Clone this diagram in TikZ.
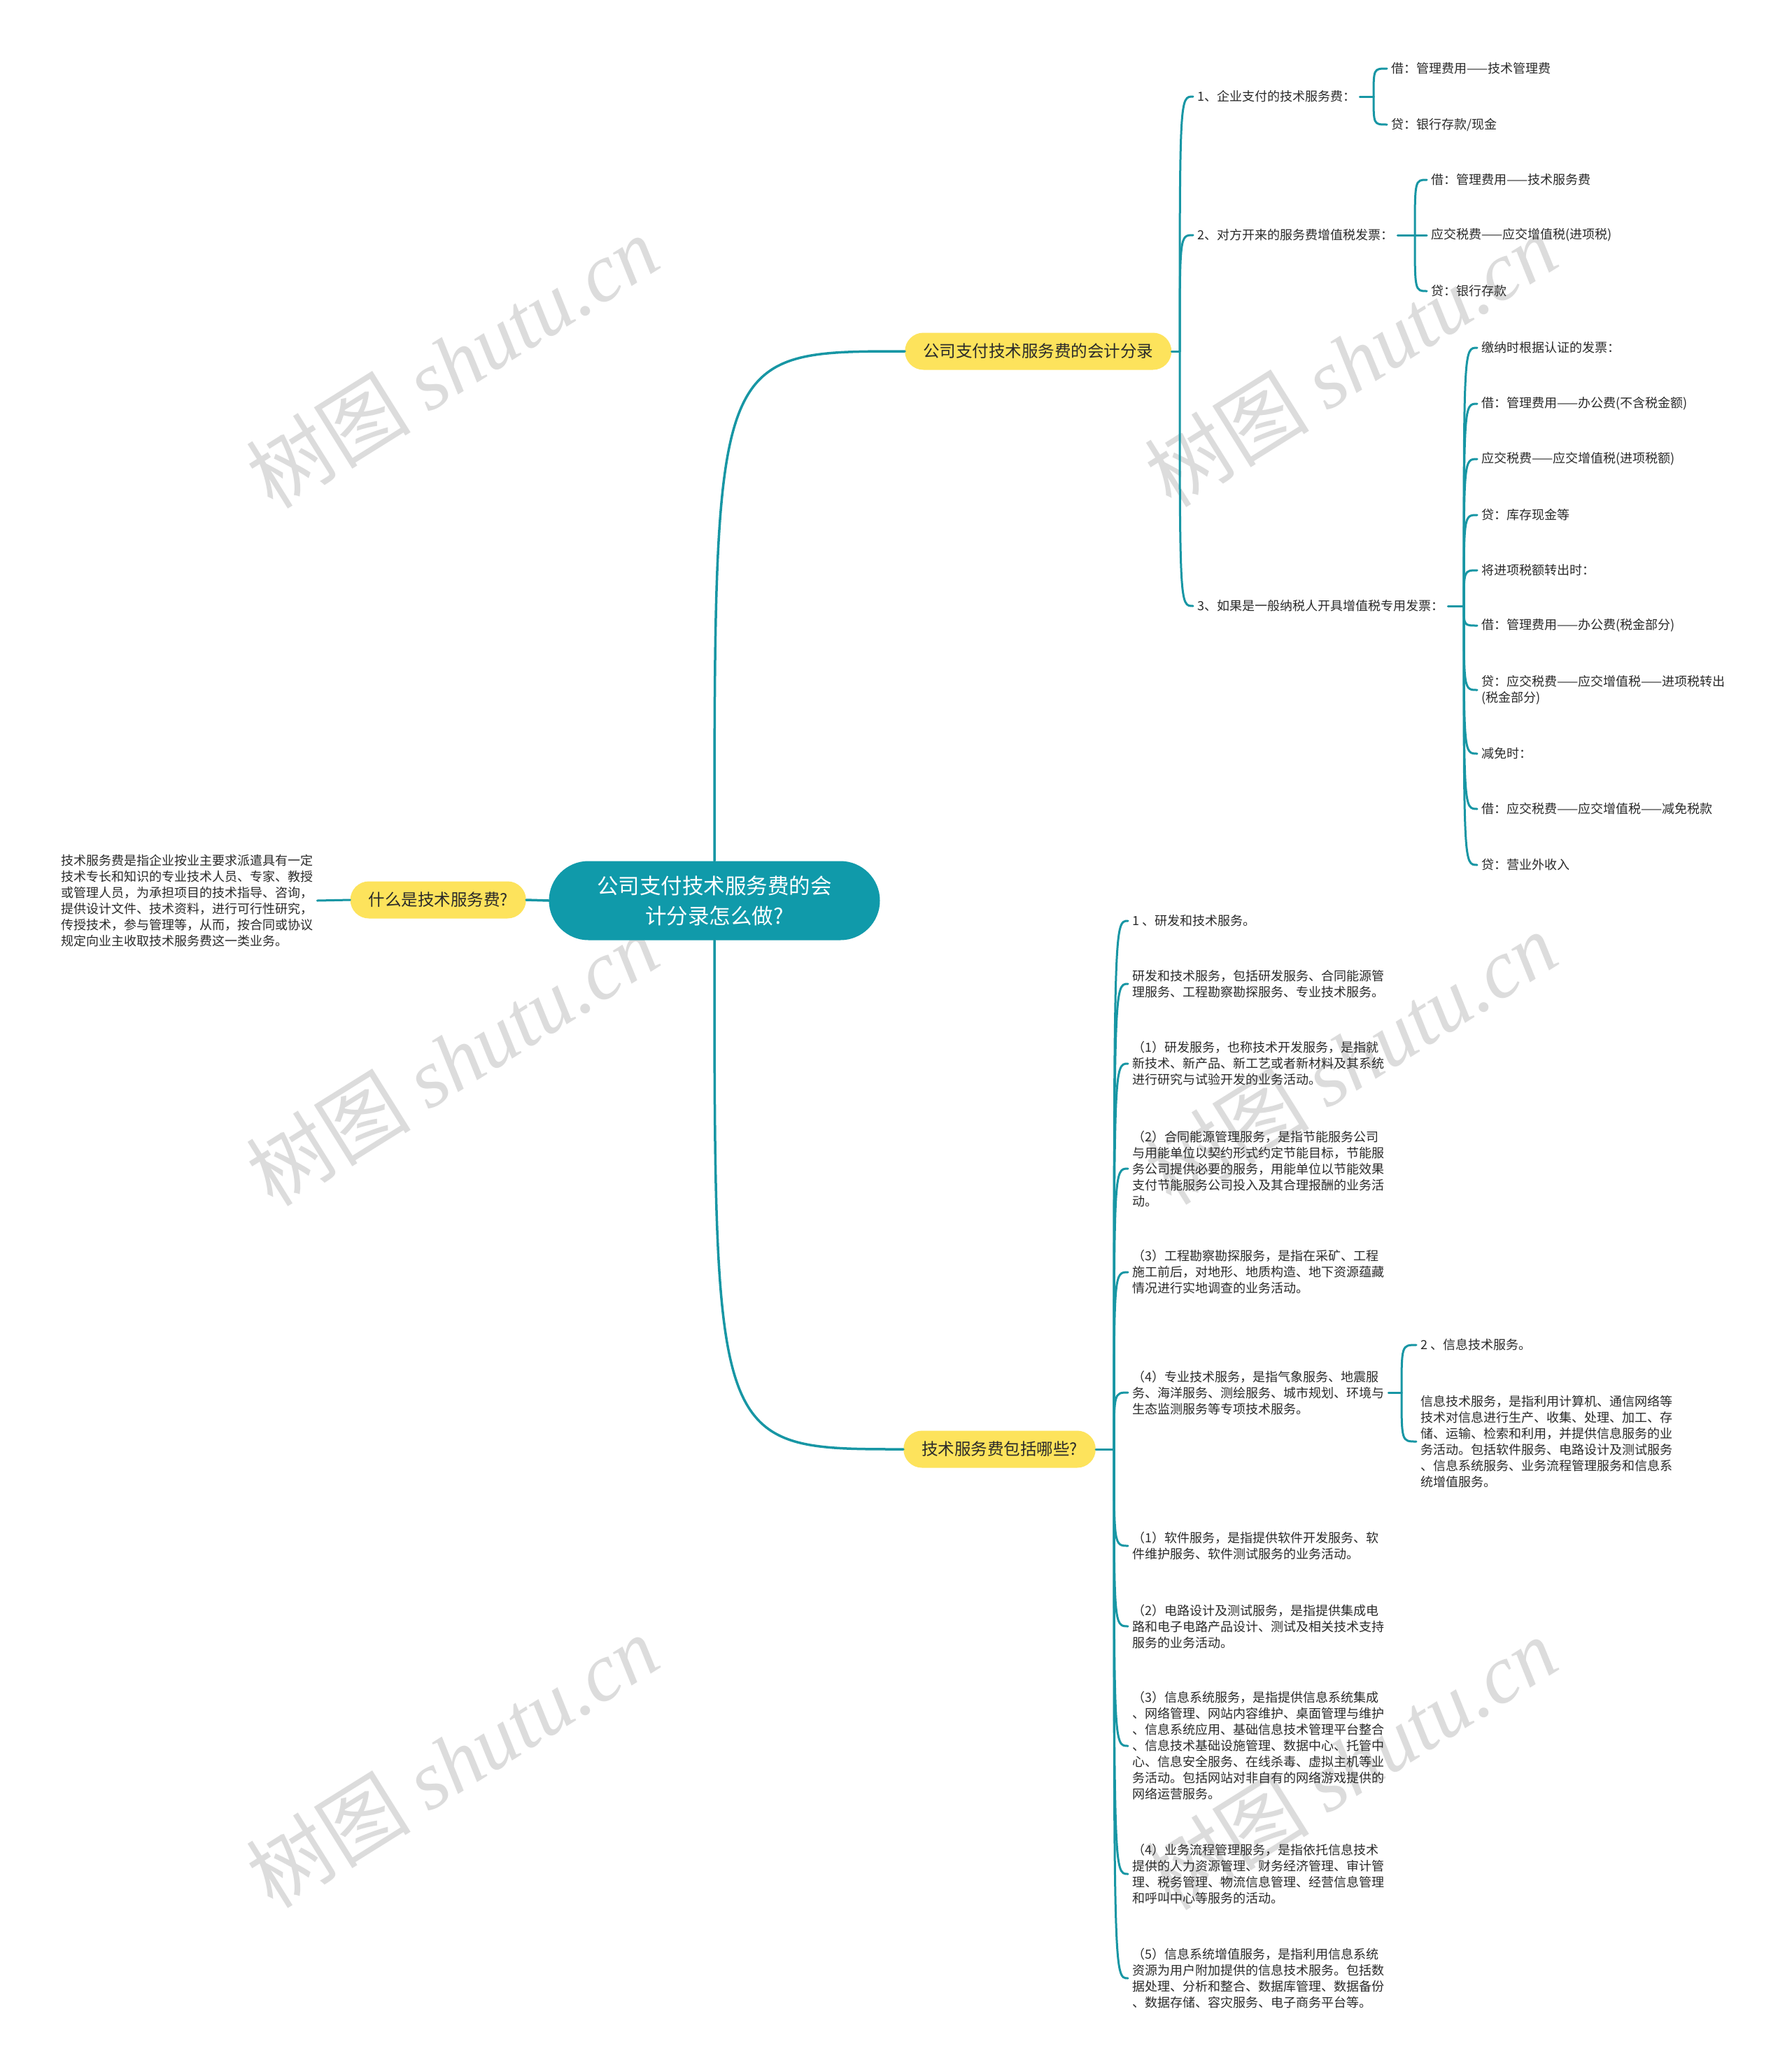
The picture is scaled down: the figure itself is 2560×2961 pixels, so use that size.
\documentclass[tikz,border=0pt]{standalone}
\usepackage{fontspec}
\setmainfont{Noto Sans CJK SC}
\newfontfamily\wmlat{Liberation Serif}
\definecolor{teal1}{HTML}{1796A4}
\definecolor{tealnode}{HTML}{109AAA}
\definecolor{yel}{HTML}{FDE35C}
\definecolor{txt}{HTML}{2A2A2A}
\definecolor{wm}{HTML}{DCDCDC}
\begin{document}
\begin{tikzpicture}[x=1pt,y=-1pt,
  conn/.style={draw=teal1,line width=3pt,line cap=round},
  mainconn/.style={draw=teal1,line width=3.5pt,line cap=round},
  leaf/.style={anchor=west,inner xsep=6pt,inner ysep=2pt,align=left,text=txt,font=\fontsize{18}{23}\selectfont},
  topic/.style={fill=yel,rounded corners=26.5pt,minimum height=53pt,inner xsep=26pt,inner ysep=0pt,text=txt,font=\fontsize{23.5}{30}\selectfont},
  rootnode/.style={fill=tealnode,rounded corners=56.5pt,minimum width=473pt,minimum height=113pt,align=center,text=white,font=\fontsize{30.5}{43}\selectfont},
  wmark/.style={rotate=32,text=wm,font=\fontsize{118}{118}\selectfont},
]
\fill[white] (0,0) rectangle (2560,2961);
\useasboundingbox (0,0) rectangle (2560,2961);

% watermarks
\foreach[count=\i] \p in {(646,517),(1930,515),(646,1514),(1930,1512),(646,2517),(1930,2520)}
  \node[wmark] (wm\i) at \p {树图 {\wmlat\itshape shutu.cn}};

% central and main topics
\node[rootnode] (root) at (1021,1287) {公司支付技术服务费的会\\计分录怎么做?};
\node[topic,anchor=west] (tA) at (1293,502) {公司支付技术服务费的会计分录};
\node[topic,anchor=west] (tB) at (1291,2071) {技术服务费包括哪些?};
\node[topic,anchor=east] (tC) at (752,1286) {什么是技术服务费?};

\node[leaf] (desc) at (81,1287) {技术服务费是指企业按业主要求派遣具有一定\\技术专长和知识的专业技术人员、专家、教授\\或管理人员，为承担项目的技术指导、咨询，\\提供设计文件、技术资料，进行可行性研究，\\传授技术，参与管理等，从而，按合同或协议\\规定向业主收取技术服务费这一类业务。};

\draw[mainconn] (root.north) .. controls (root.north |- tA.west) .. (tA.west);
\draw[mainconn] (root.south) .. controls (root.south |- tB.west) .. (tB.west);
\draw[mainconn] (root.west) -- (tC.east);
\draw[conn] (tC.west) -- (desc.east);

% ---------- top branch ----------
\coordinate (jA) at (1686,502);
\draw[conn] (tA.east) -- (jA);
\node[leaf] (a1) at (1705,138) {1、企业支付的技术服务费：};
\node[leaf] (a2) at (1705,336) {2、对方开来的服务费增值税发票：};
\node[leaf] (a3) at (1705,866) {3、如果是一般纳税人开具增值税专用发票：};
\foreach \n in {a1,a2,a3} \draw[conn] (jA) .. controls (jA |- \n.west) .. (\n.west);

\coordinate (ja1) at (1963,138);
\draw[conn] (a1.east) -- (ja1);
\node[leaf] (a1x) at (1982,98) {借：管理费用——技术管理费};
\node[leaf] (a1y) at (1982,178) {贷：银行存款/现金};
\foreach \n in {a1x,a1y} \draw[conn] (ja1) .. controls (ja1 |- \n.west) .. (\n.west);

\coordinate (ja2) at (2022,336);
\draw[conn] (a2.east) -- (ja2);
\node[leaf] (a2x) at (2039,257) {借：管理费用——技术服务费};
\node[leaf] (a2y) at (2039,336) {应交税费——应交增值税(进项税)};
\node[leaf] (a2z) at (2039,416) {贷：银行存款};
\foreach \n in {a2x,a2y,a2z} \draw[conn] (ja2) .. controls (ja2 |- \n.west) .. (\n.west);

\coordinate (ja3) at (2092,866);
\draw[conn] (a3.east) -- (ja3);
\node[leaf] (c1) at (2111,497) {缴纳时根据认证的发票：};
\node[leaf] (c2) at (2111,577) {借：管理费用——办公费(不含税金额)};
\node[leaf] (c3) at (2111,656) {应交税费——应交增值税(进项税额)};
\node[leaf] (c4) at (2111,736) {贷：库存现金等};
\node[leaf] (c5) at (2111,815) {将进项税额转出时：};
\node[leaf] (c6) at (2111,894) {借：管理费用——办公费(税金部分)};
\node[leaf] (c7) at (2111,986) {贷：应交税费——应交增值税——进项税转出\\(税金部分)};
\node[leaf] (c8) at (2111,1077) {减免时：};
\node[leaf] (c9) at (2111,1156) {借：应交税费——应交增值税——减免税款};
\node[leaf] (c10) at (2111,1236) {贷：营业外收入};
\foreach \n in {c1,c2,c3,c4,c5,c6,c7,c8,c9,c10} \draw[conn] (ja3) .. controls (ja3 |- \n.west) .. (\n.west);

% ---------- bottom branch ----------
\coordinate (jB) at (1592,2071);
\draw[conn] (tB.east) -- (jB);
\node[leaf] (b1) at (1612,1316) {1 、研发和技术服务。};
\node[leaf] (b2) at (1612,1406) {研发和技术服务，包括研发服务、合同能源管\\理服务、工程勘察勘探服务、专业技术服务。};
\node[leaf] (b3) at (1612,1520) {（1）研发服务，也称技术开发服务，是指就\\新技术、新产品、新工艺或者新材料及其系统\\进行研究与试验开发的业务活动。};
\node[leaf] (b4) at (1612,1670) {（2）合同能源管理服务，是指节能服务公司\\与用能单位以契约形式约定节能目标，节能服\\务公司提供必要的服务，用能单位以节能效果\\支付节能服务公司投入及其合理报酬的业务活\\动。};
\node[leaf] (b5) at (1612,1818) {（3）工程勘察勘探服务，是指在采矿、工程\\施工前后，对地形、地质构造、地下资源蕴藏\\情况进行实地调查的业务活动。};
\node[leaf] (b6) at (1612,1990) {（4）专业技术服务，是指气象服务、地震服\\务、海洋服务、测绘服务、城市规划、环境与\\生态监测服务等专项技术服务。};
\node[leaf] (b7) at (1612,2209) {（1）软件服务，是指提供软件开发服务、软\\件维护服务、软件测试服务的业务活动。};
\node[leaf] (b8) at (1612,2324) {（2）电路设计及测试服务，是指提供集成电\\路和电子电路产品设计、测试及相关技术支持\\服务的业务活动。};
\node[leaf] (b9) at (1612,2495) {（3）信息系统服务，是指提供信息系统集成\\、网络管理、网站内容维护、桌面管理与维护\\、信息系统应用、基础信息技术管理平台整合\\、信息技术基础设施管理、数据中心、托管中\\心、信息安全服务、在线杀毒、虚拟主机等业\\务活动。包括网站对非自有的网络游戏提供的\\网络运营服务。};
\node[leaf] (b10) at (1612,2678) {（4）业务流程管理服务，是指依托信息技术\\提供的人力资源管理、财务经济管理、审计管\\理、税务管理、物流信息管理、经营信息管理\\和呼叫中心等服务的活动。};
\node[leaf] (b11) at (1612,2827) {（5）信息系统增值服务，是指利用信息系统\\资源为用户附加提供的信息技术服务。包括数\\据处理、分析和整合、数据库管理、数据备份\\、数据存储、容灾服务、电子商务平台等。};
\foreach \n in {b1,b2,b3,b4,b5,b6,b7,b8,b9,b10,b11} \draw[conn] (jB) .. controls (jB |- \n.west) .. (\n.west);

\coordinate (jf) at (2003,1990);
\draw[conn] (b6.east) -- (jf);
\node[leaf] (f1) at (2024,1922) {2 、信息技术服务。};
\node[leaf] (f2) at (2024,2060) {信息技术服务，是指利用计算机、通信网络等\\技术对信息进行生产、收集、处理、加工、存\\储、运输、检索和利用，并提供信息服务的业\\务活动。包括软件服务、电路设计及测试服务\\、信息系统服务、业务流程管理服务和信息系\\统增值服务。};
\foreach \n in {f1,f2} \draw[conn] (jf) .. controls (jf |- \n.west) .. (\n.west);
\end{tikzpicture}
\end{document}
